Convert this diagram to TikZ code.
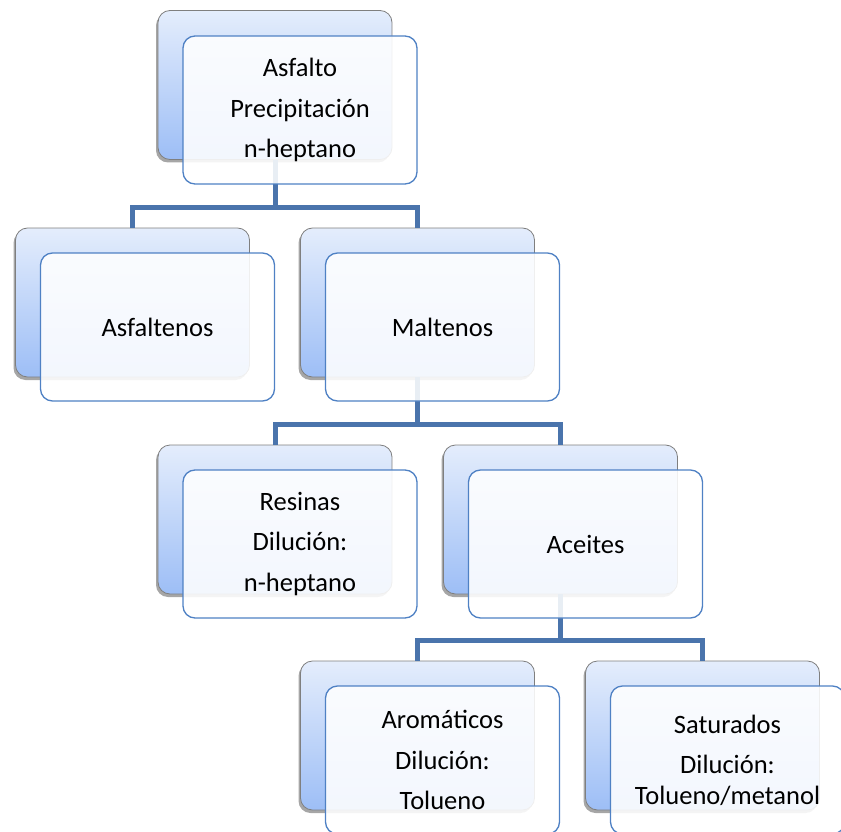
\documentclass[tikz,border=0pt]{standalone}
\usepackage{fontspec}
\setmainfont{Carlito}
\usetikzlibrary{shadows,calc}
\definecolor{backtop}{HTML}{E4EDFC}
\definecolor{backbot}{HTML}{9DBEF6}
\definecolor{backline}{HTML}{7F7F7F}
\definecolor{frontline}{HTML}{4F81C4}
\definecolor{connline}{HTML}{4A74AC}
\tikzset{
  backbox/.style={rectangle, rounded corners=12pt, draw=backline, line width=0.8pt,
    top color=backtop, bottom color=backbot,
    minimum width=234pt, minimum height=149pt, inner sep=0pt,
    drop shadow={shadow xshift=-2pt, shadow yshift=-3pt, opacity=0.35, fill=black}},
  frontbox/.style={rectangle, rounded corners=12pt, draw=frontline, line width=1.3pt,
    fill=white, fill opacity=0.88, text opacity=1,
    minimum width=234pt, minimum height=148pt, inner sep=0pt,
    align=center, font=\fontsize{26.5pt}{40.5pt}\selectfont},
  conn/.style={draw=connline, line width=5pt}
}
\begin{document}
\begin{tikzpicture}[x=1pt,y=-1pt]
\useasboundingbox (0,0) rectangle (841,832);
\clip (0,0) rectangle (841,832);

% rear panels
\node[backbox] (top-b) at (275,85) {};
\node[backbox] (asf-b) at (132.5,302.5) {};
\node[backbox] (mal-b) at (417.5,302.5) {};
\node[backbox] (res-b) at (275,519.5) {};
\node[backbox] (ace-b) at (560.5,519.5) {};
\node[backbox] (aro-b) at (417.5,735.5) {};
\node[backbox] (sat-b) at (702.5,735.5) {};

% branch junction levels
\coordinate (j1) at (275,207);
\coordinate (j2) at (417.5,424);
\coordinate (j3) at (560.5,640);

% connectors
\draw[conn] (top-b.south) -- (j1);
\draw[conn, line cap=butt] (asf-b.north) |- (j1) -| (mal-b.north);
\draw[conn] (mal-b.south) -- (j2);
\draw[conn] (res-b.north) |- (j2) -| (ace-b.north);
\draw[conn] (ace-b.south) -- (j3);
\draw[conn] (aro-b.north) |- (j3) -| (sat-b.north);

% front panels with labels
\node[frontbox] (top-f) at (300,110) {Asfalto\\Precipitación\\n-heptano};
\node[frontbox] (asf-f) at (157.5,327) {Asfaltenos};
\node[frontbox] (mal-f) at (442.5,327) {Maltenos};
\node[frontbox] (res-f) at (300,544) {Resinas\\Dilución:\\n-heptano};
\node[frontbox] (ace-f) at (585.5,544) {Aceites};
\node[frontbox] (aro-f) at (442.5,760) {Aromáticos\\Dilución:\\Tolueno};
\node[frontbox] (sat-f) at (727.5,760) {Saturados\\Dilución:\\[-10pt]Tolueno/metanol};
\end{tikzpicture}
\end{document}
